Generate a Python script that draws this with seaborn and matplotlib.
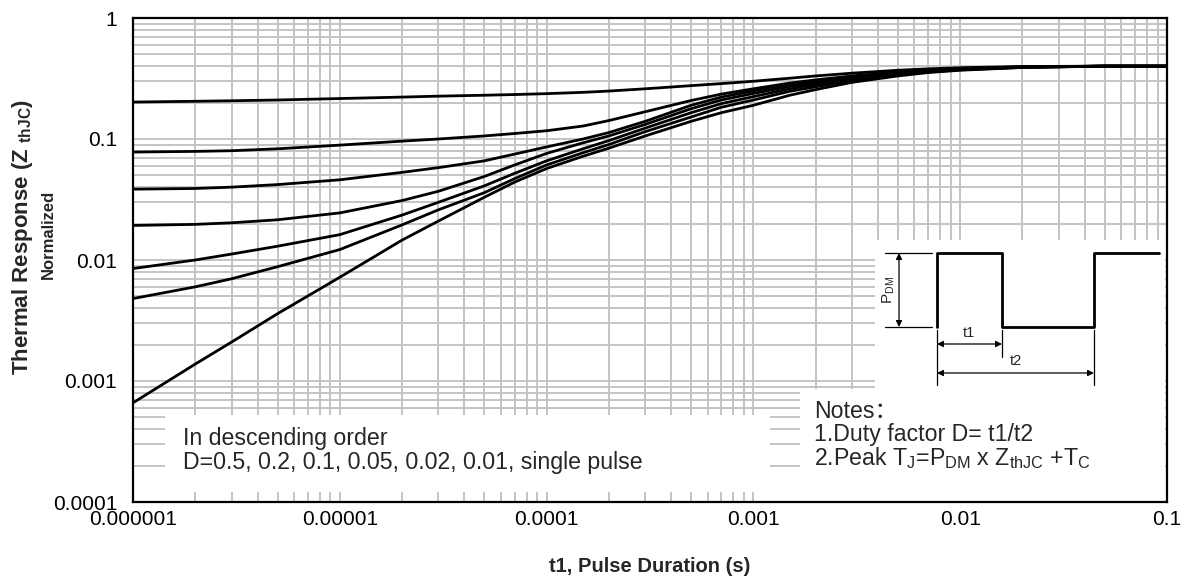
import numpy as np
import pandas as pd
import matplotlib
matplotlib.use("Agg")
import matplotlib.pyplot as plt
import seaborn as sns
from matplotlib.patches import Rectangle
from matplotlib.ticker import FixedLocator, FixedFormatter, LogLocator, NullFormatter

# Pulse duration (s)
t1 = [1e-6, 2e-6, 3e-6, 5e-6, 1e-5, 2e-5, 3e-5, 5e-5, 7e-5, 1e-4, 1.5e-4, 2e-4,
      3e-4, 5e-4, 7e-4, 1e-3, 1.5e-3, 2e-3, 3e-3, 5e-3, 7e-3, 1e-2, 2e-2, 5e-2, 1e-1]

# Normalized Zth for each duty factor
z_d05 = [0.202, 0.205, 0.207, 0.210, 0.216, 0.222, 0.226, 0.230, 0.233, 0.237, 0.243, 0.249,
         0.260, 0.276, 0.287, 0.300, 0.318, 0.332, 0.350, 0.370, 0.380, 0.388, 0.397, 0.400, 0.400]
z_d02 = [0.078, 0.079, 0.080, 0.083, 0.089, 0.096, 0.100, 0.106, 0.111, 0.117, 0.128, 0.142,
         0.168, 0.208, 0.235, 0.260, 0.290, 0.308, 0.332, 0.358, 0.372, 0.383, 0.395, 0.400, 0.400]
z_d01 = [0.0385, 0.039, 0.040, 0.042, 0.046, 0.053, 0.058, 0.066, 0.075, 0.086, 0.100, 0.113,
         0.140, 0.190, 0.222, 0.250, 0.282, 0.302, 0.328, 0.355, 0.370, 0.381, 0.394, 0.400, 0.400]
z_d005 = [0.0193, 0.0197, 0.0203, 0.0215, 0.0245, 0.031, 0.037, 0.049, 0.061, 0.076, 0.093, 0.106,
          0.132, 0.178, 0.210, 0.238, 0.272, 0.293, 0.322, 0.350, 0.366, 0.379, 0.393, 0.400, 0.400]
z_d002 = [0.0085, 0.0100, 0.0112, 0.0130, 0.0162, 0.0235, 0.030, 0.041, 0.052, 0.066, 0.083, 0.097,
          0.123, 0.165, 0.196, 0.224, 0.260, 0.282, 0.314, 0.344, 0.362, 0.376, 0.392, 0.400, 0.400]
z_d001 = [0.0048, 0.0060, 0.0070, 0.0088, 0.0122, 0.0195, 0.026, 0.036, 0.047, 0.061, 0.077, 0.090,
          0.115, 0.152, 0.183, 0.210, 0.248, 0.270, 0.305, 0.339, 0.358, 0.373, 0.391, 0.400, 0.400]
z_single = [0.00066, 0.00138, 0.0021, 0.0036, 0.0072, 0.0146, 0.021, 0.033, 0.044, 0.057, 0.072, 0.084,
            0.106, 0.140, 0.165, 0.190, 0.230, 0.256, 0.294, 0.332, 0.354, 0.370, 0.390, 0.400, 0.400]

series = {"0.5": z_d05, "0.2": z_d02, "0.1": z_d01, "0.05": z_d005,
          "0.02": z_d002, "0.01": z_d001, "single": z_single}

x_ticks = [1e-6, 1e-5, 1e-4, 1e-3, 1e-2, 1e-1]
x_labels = ["0.000001", "0.00001", "0.0001", "0.001", "0.01", "0.1"]
y_ticks = [1e-4, 1e-3, 1e-2, 1e-1, 1]
y_labels = ["0.0001", "0.001", "0.01", "0.1", "1"]

df = pd.concat([pd.DataFrame({"t": t1, "z": v, "D": k}) for k, v in series.items()])

sns.set_style("white")
plt.rcParams["font.family"] = ["Liberation Sans", "Noto Sans CJK SC", "DejaVu Sans"]
plt.rcParams["mathtext.fontset"] = "custom"
plt.rcParams["mathtext.rm"] = "Liberation Sans"
plt.rcParams["mathtext.bf"] = "Liberation Sans:bold"
plt.rcParams["mathtext.default"] = "regular"

W, H = 1186, 582
fig = plt.figure(figsize=(W / 100, H / 100), dpi=100)
ax = fig.add_axes([133 / W, 1 - 502 / H, 1034 / W, 484 / H])

sns.lineplot(data=df, x="t", y="z", hue="D", palette=["black"] * 7,
             legend=False, lw=2, estimator=None, ax=ax, zorder=3)

ax.set_xscale("log")
ax.set_yscale("log")
ax.set_xlim(1e-6, 1e-1)
ax.set_ylim(1e-4, 1)
ax.xaxis.set_major_locator(FixedLocator(x_ticks))
ax.xaxis.set_major_formatter(FixedFormatter(x_labels))
ax.yaxis.set_major_locator(FixedLocator(y_ticks))
ax.yaxis.set_major_formatter(FixedFormatter(y_labels))
for a in (ax.xaxis, ax.yaxis):
    a.set_minor_locator(LogLocator(base=10, subs=np.arange(2, 10), numticks=20))
    a.set_minor_formatter(NullFormatter())
ax.set_axisbelow(True)
ax.grid(which="both", color="#c4c4c4", lw=1.4)
ax.tick_params(which="both", length=0, labelsize=15, colors="black")
ax.tick_params(axis="x", pad=6)
ax.tick_params(axis="y", pad=11.5)
for s in ax.spines.values():
    s.set_color("black")
    s.set_linewidth(1.6)
    s.set_zorder(5)

ax.set_xlabel("t1, Pulse Duration (s)", fontsize=14.5, fontweight="bold", labelpad=20)
ax.set_ylabel("Thermal Response (Z $_{\\mathbf{thJC}}$)", fontsize=16, fontweight="bold")
ax.yaxis.label.set_va("center")
ax.yaxis.set_label_coords(-0.107, 0.547)
ax.text(-0.082, 0.553, "Normalized", transform=ax.transAxes, rotation=90,
        fontsize=12, fontweight="bold", ha="center", va="center")

# white boxes hiding the grid behind the notes
def px_box(x0, y0, x1, y1):
    r = Rectangle((x0 / W, 1 - y1 / H), (x1 - x0) / W, (y1 - y0) / H,
                  transform=fig.transFigure, facecolor="white", edgecolor="none", zorder=1)
    ax.add_patch(r)

px_box(165, 415, 770, 492)
px_box(800, 389, 1165, 502)
px_box(875, 240, 1165, 392)

txt = dict(fontsize=16.7, ha="left", va="center", transform=fig.transFigure, zorder=6)
fig.text(183 / W, 1 - 438 / H, "In descending order", **txt)
fig.text(183 / W, 1 - 462 / H, "D=0.5, 0.2, 0.1, 0.05, 0.02, 0.01, single pulse", **txt)
fig.text(814 / W, 1 - 411 / H, "Notes\uff1a", **txt)
fig.text(814 / W, 1 - 434 / H, "1.Duty factor D= t1/t2", **txt)
fig.text(814 / W, 1 - 458 / H,
         "2.Peak T$_{J}$=P$_{DM}$ x Z$_{thJC}$ +T$_{C}$", **txt)

# pulse waveform inset
ins = fig.add_axes([875 / W, 1 - 392 / H, 290 / W, 152 / H])
ins.set_xlim(875, 1165)
ins.set_ylim(392, 240)
ins.axis("off")
wave_x = [937, 937, 1002, 1002, 1094, 1094, 1159]
wave_y = [327, 253, 253, 327, 327, 253, 253]
ins.plot(wave_x, wave_y, color="black", lw=2)
ins.plot([885, 932], [253, 253], color="black", lw=0.9)
ins.plot([885, 932], [327, 327], color="black", lw=0.9)
ins.plot([937, 937], [330, 385], color="black", lw=0.9)
ins.plot([1002, 1002], [330, 357], color="black", lw=0.9)
ins.plot([1094, 1094], [330, 385], color="black", lw=0.9)
arr = dict(arrowstyle="<|-|>", color="black", lw=0.9, mutation_scale=9, shrinkA=0, shrinkB=0)
ins.annotate("", xy=(899, 253), xytext=(899, 327), arrowprops=arr)
ins.annotate("", xy=(937, 344), xytext=(1002, 344), arrowprops=arr)
ins.annotate("", xy=(937, 373), xytext=(1094, 373), arrowprops=arr)
ins.text(889, 290, "P$_{DM}$", rotation=90, fontsize=11, ha="center", va="center")
ins.text(969, 333, "t1", fontsize=10.5, ha="center", va="center")
ins.text(1016, 361, "t2", fontsize=10.5, ha="center", va="center")

fig.savefig("out.png", dpi=100)
